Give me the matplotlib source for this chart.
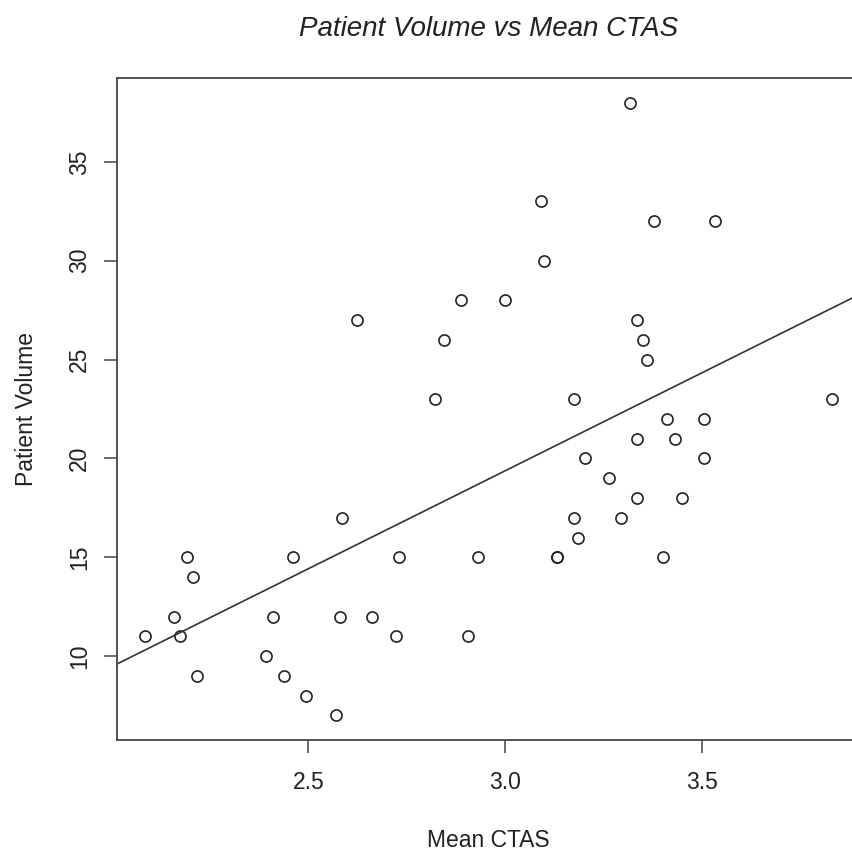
import numpy as np
import matplotlib
matplotlib.use("Agg")
import matplotlib.pyplot as plt

mean_ctas = [2.084, 2.160, 2.173, 2.193, 2.206, 2.216, 2.393, 2.411, 2.439, 2.462,
             2.495, 2.569, 2.579, 2.584, 2.624, 2.662, 2.723, 2.731, 2.822, 2.843,
             2.888, 2.906, 2.931, 3.000, 3.089, 3.099, 3.132, 3.132, 3.173, 3.175,
             3.185, 3.201, 3.264, 3.294, 3.315, 3.335, 3.335, 3.335, 3.348, 3.360,
             3.376, 3.401, 3.411, 3.431, 3.447, 3.503, 3.503, 3.533, 3.830]
patient_volume = [11, 12, 11, 15, 14, 9, 10, 12, 9, 15,
                  8, 7, 12, 17, 27, 12, 11, 15, 23, 26,
                  28, 11, 15, 28, 33, 30, 15, 15, 23, 17,
                  16, 20, 19, 17, 38, 27, 21, 18, 26, 25,
                  32, 15, 22, 21, 18, 22, 20, 32, 23]
x_ticks = [2.5, 3.0, 3.5]
y_ticks = [10, 15, 20, 25, 30, 35]

title = "Patient Volume vs Mean CTAS"
xlabel = "Mean CTAS"
ylabel = "Patient Volume"

plt.rcParams['font.family'] = ['Liberation Sans', 'DejaVu Sans']

W, H = 852, 855
fig = plt.figure(figsize=(W / 100, H / 100), dpi=100)
left, right, top, bottom = 117, 860, 78, 740
ax = fig.add_axes([left / W, 1 - bottom / H, (right - left) / W, (bottom - top) / H])

x = np.array(mean_ctas)
y = np.array(patient_volume)
ax.plot(x, y, linestyle='none', marker='o', markersize=8, markerfacecolor='none',
        markeredgecolor='#222222', markeredgewidth=1.2)

slope, intercept = np.polyfit(x, y, 1)
xr = x.max() - x.min()
yr = y.max() - y.min()
xlim = (x.min() - 0.04 * xr, x.max() + 0.04 * xr)
ylim = (y.min() - 0.04 * yr, y.max() + 0.04 * yr)
xx = np.array([xlim[0] - 1, xlim[1] + 1])
ax.plot(xx, intercept + slope * xx, color='#333333', linewidth=1.2)
ax.set_xlim(*xlim)
ax.set_ylim(*ylim)

fs = 16.5
ax.set_xticks(x_ticks)
ax.set_xticklabels([f"{t:.1f}" for t in x_ticks])
ax.set_yticks(y_ticks)
ax.set_yticklabels([str(t) for t in y_ticks], rotation=90, va='center')
ax.tick_params(direction='out', length=9.5, width=1.1, color='#444444', labelsize=fs,
               labelcolor='#222222')
ax.tick_params(axis='x', pad=13)
ax.tick_params(axis='y', pad=9)
for s in ax.spines.values():
    s.set_color('#444444')
    s.set_linewidth(1.3)

ax.set_xlabel(xlabel, fontsize=fs, color='#222222', va='baseline')
ax.xaxis.set_label_coords(0.5, (bottom - 847) / (bottom - top))
ax.set_ylabel(ylabel, fontsize=fs, color='#222222', va='baseline', ha='center',
              rotation_mode='anchor')
ax.yaxis.set_label_coords((33 - left) / (right - left), 0.5)

ax.set_title(title, fontsize=20, style='italic', color='#222222', va='baseline',
             y=(bottom - 36) / (bottom - top), pad=0)

fig.savefig("out.png", dpi=100)
